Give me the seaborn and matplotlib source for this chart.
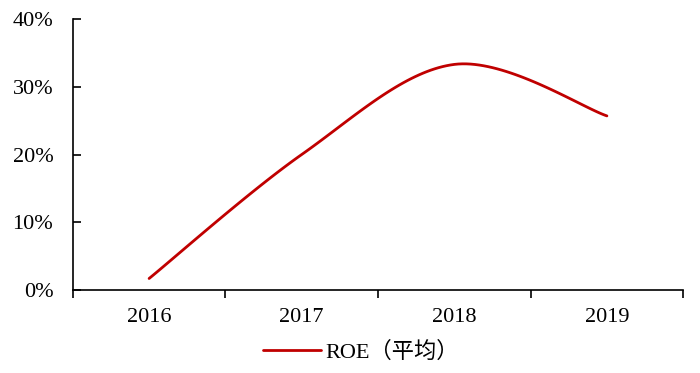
import numpy as np
import pandas as pd
import matplotlib
matplotlib.use("Agg")
import matplotlib.pyplot as plt
import seaborn as sns

years = ["2016", "2017", "2018", "2019"]
roe = [1.7, 20.0, 33.3, 25.7]
y_ticks = [0, 10, 20, 30, 40]
y_tick_labels = ["0%", "10%", "20%", "30%", "40%"]
series_name = "ROE（平均）"

sns.set_theme(style="white")
plt.rcParams["font.family"] = ["Liberation Serif", "Noto Sans CJK SC"]

def smooth(xs, ys, n=40):
    # Excel-like smoothed line: Catmull-Rom Bezier segments between data points
    P = np.column_stack([xs, ys]).astype(float)
    out = []
    for i in range(len(P) - 1):
        p0 = P[i - 1] if i > 0 else P[i]
        p1, p2 = P[i], P[i + 1]
        p3 = P[i + 2] if i + 2 < len(P) else P[i + 1]
        c1 = p1 + (p2 - p0) / 6
        c2 = p2 - (p3 - p1) / 6
        t = np.linspace(0, 1, n)[:, None]
        seg = (1 - t) ** 3 * p1 + 3 * (1 - t) ** 2 * t * c1 + 3 * (1 - t) * t ** 2 * c2 + t ** 3 * p2
        out.append(seg if i == 0 else seg[1:])
    return np.vstack(out)

xs = np.arange(len(years))
curve = smooth(xs, roe)
df = pd.DataFrame({"x": curve[:, 0], "y": curve[:, 1], "s": series_name})

fig = plt.figure(figsize=(7.0, 3.73), dpi=100)
ax = fig.add_axes([0.104, 0.2225, 0.872, 0.7265])
sns.lineplot(data=df, x="x", y="y", hue="s", palette=["#C00000"], linewidth=2.0,
             sort=False, estimator=None, ax=ax)

ax.set_xlim(-0.5, len(years) - 0.5)
ax.set_ylim(0, 40)
ax.set_yticks(y_ticks)
ax.set_yticklabels(y_tick_labels)
ax.set_xticks(np.arange(-0.5, len(years), 1.0))
ax.set_xticklabels([])
ax.set_xticks(xs, minor=True)
ax.set_xticklabels(years, minor=True)
ax.tick_params(axis="x", which="major", direction="out", length=6, width=1.2, color="black", bottom=True)
ax.tick_params(axis="x", which="minor", length=0, pad=13, labelsize=16, labelcolor="black", bottom=True)
ax.tick_params(axis="y", direction="in", length=6, width=1.2, color="black", labelsize=16,
               labelcolor="black", left=True, pad=14)
for side in ["top", "right"]:
    ax.spines[side].set_visible(False)
for side in ["left", "bottom"]:
    ax.spines[side].set_color("black")
    ax.spines[side].set_linewidth(1.2)
ax.set_xlabel("")
ax.set_ylabel("")
ax.grid(False)

leg = ax.legend(loc="center", bbox_to_anchor=(0.472, -0.228), frameon=False,
                fontsize=16, handlelength=2.6, handletextpad=0.2, borderaxespad=0)
for t in leg.get_texts():
    t.set_color("black")

fig.savefig("out.png", dpi=100, facecolor="white")
